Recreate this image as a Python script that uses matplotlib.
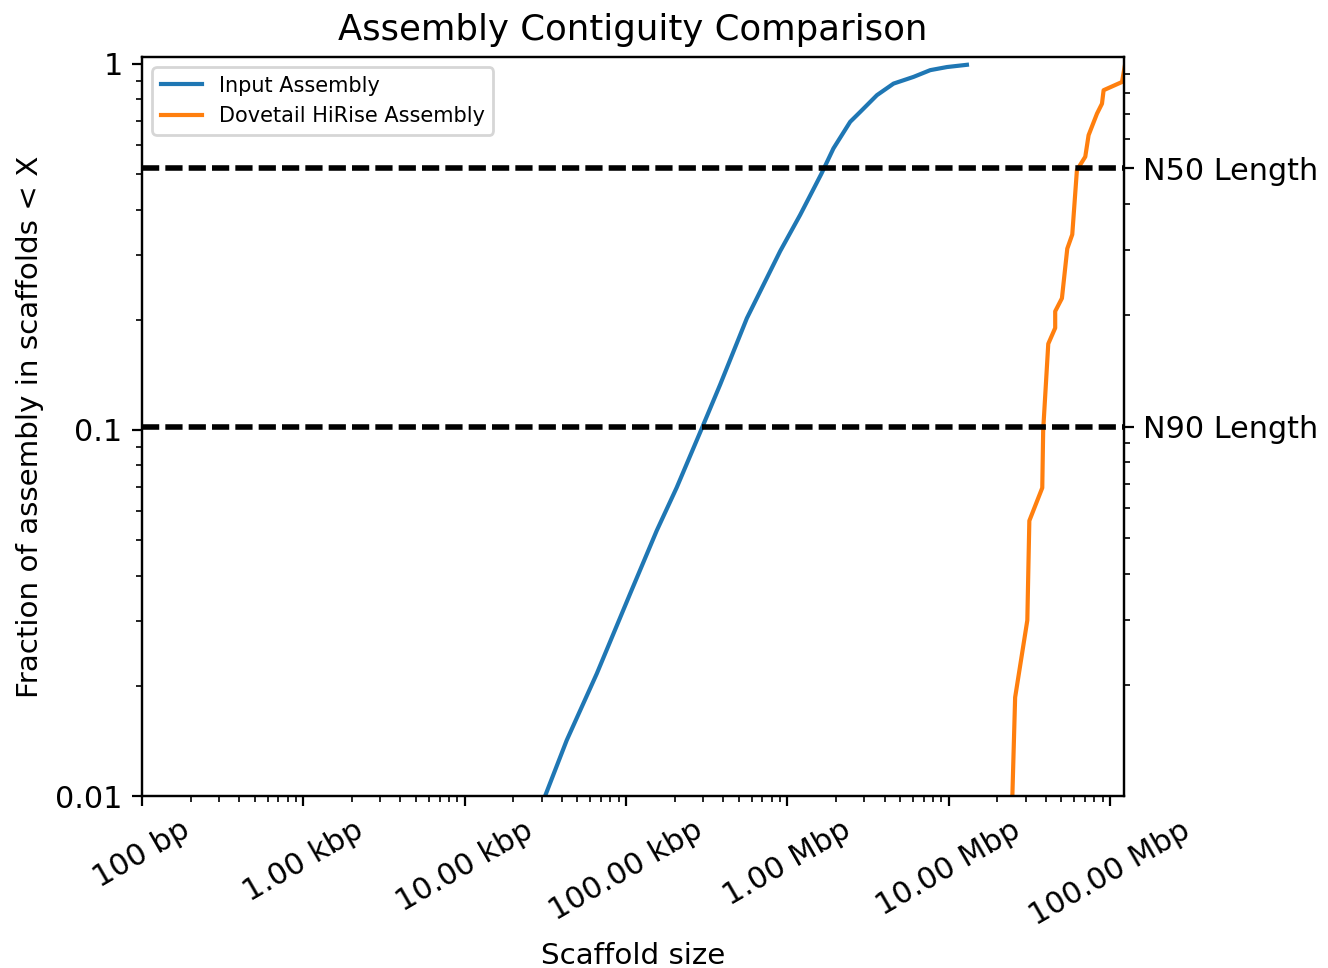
import matplotlib
matplotlib.use("Agg")
import matplotlib.pyplot as plt
from matplotlib.ticker import FixedLocator, FixedFormatter, LogLocator, NullFormatter

# ---- data ----
input_sizes = [31.5e3, 42.9e3, 65.9e3, 106e3, 155e3, 206e3, 292e3, 383e3, 561e3,
               678e3, 902e3, 1.20e6, 1.62e6, 1.93e6, 2.45e6, 2.83e6, 3.59e6,
               4.55e6, 6.05e6, 7.68e6, 9.75e6, 12.97e6]
input_frac = [0.01, 0.0142, 0.0216, 0.0357, 0.0531, 0.0696, 0.100, 0.133, 0.202,
              0.239, 0.308, 0.387, 0.50, 0.588, 0.695, 0.740, 0.822,
              0.884, 0.922, 0.962, 0.981, 0.995]

hirise_sizes = [24.8e6, 25.8e6, 30.7e6, 31.6e6, 38.0e6, 38.5e6, 41.4e6, 45.7e6,
                45.7e6, 50.3e6, 54.3e6, 58.3e6, 62.3e6, 70.2e6, 73.6e6, 83.0e6,
                89.1e6, 91.2e6, 118.6e6, 124e6]
hirise_frac = [0.01, 0.0186, 0.0302, 0.0565, 0.0695, 0.100, 0.172, 0.190,
               0.211, 0.229, 0.313, 0.342, 0.513, 0.558, 0.639, 0.732,
               0.779, 0.848, 0.893, 1.0]

series_labels = ["Input Assembly", "Dovetail HiRise Assembly"]
x_ticks = [1e2, 1e3, 1e4, 1e5, 1e6, 1e7, 1e8]
x_tick_labels = ["100 bp", "1.00 kbp", "10.00 kbp", "100.00 kbp",
                 "1.00 Mbp", "10.00 Mbp", "100.00 Mbp"]
y_ticks = [0.01, 0.1, 1]
y_tick_labels = ["0.01", "0.1", "1"]
nx_values = [0.5, 0.1]
nx_labels = ["N50 Length", "N90 Length"]

TICK_FS = 10.9

# ---- figure ----
fig = plt.figure(figsize=(6.64, 4.84), dpi=200)
ax = fig.add_axes([142/1328, 172/968, 982/1328, 739/968])

ax.plot(input_sizes, input_frac, color="#1f77b4", lw=1.5, label=series_labels[0])
ax.plot(hirise_sizes, hirise_frac, color="#ff7f0e", lw=1.5, label=series_labels[1])

ax.set_xscale("log")
ax.set_yscale("log")
ax.set_xlim(100, 1.22e8)
ax.set_ylim(0.01, 1.045)

ax.xaxis.set_major_locator(FixedLocator(x_ticks))
ax.xaxis.set_major_formatter(FixedFormatter(x_tick_labels))
ax.xaxis.set_minor_locator(LogLocator(base=10, subs=range(2, 10)))
ax.xaxis.set_minor_formatter(NullFormatter())
ax.yaxis.set_major_locator(FixedLocator(y_ticks))
ax.yaxis.set_major_formatter(FixedFormatter(y_tick_labels))
ax.yaxis.set_minor_formatter(NullFormatter())

plt.setp(ax.get_xticklabels(), rotation=30, fontsize=TICK_FS)
plt.setp(ax.get_yticklabels(), fontsize=TICK_FS)

ax.set_xlabel("Scaffold size", fontsize=10.6)
ax.set_ylabel("Fraction of assembly in scaffolds < X", fontsize=10.6)
ax.set_title("Assembly Contiguity Comparison", fontsize=12.8)

ax.legend(loc="upper left", fontsize=7.5)

# right axis carrying the N50 / N90 reference lines
ax2 = ax.twinx()
ax2.set_yscale("log")
ax2.set_ylim(0.01, 1.0)
for v in nx_values:
    ax2.axhline(v, color="black", lw=2.0, linestyle=(0, (3.1, 1.1)))
ax2.yaxis.set_major_locator(FixedLocator(nx_values))
ax2.yaxis.set_major_formatter(FixedFormatter(nx_labels))
ax2.yaxis.set_minor_formatter(NullFormatter())
plt.setp(ax2.get_yticklabels(), fontsize=TICK_FS)

fig.savefig("out.png", dpi=200)
